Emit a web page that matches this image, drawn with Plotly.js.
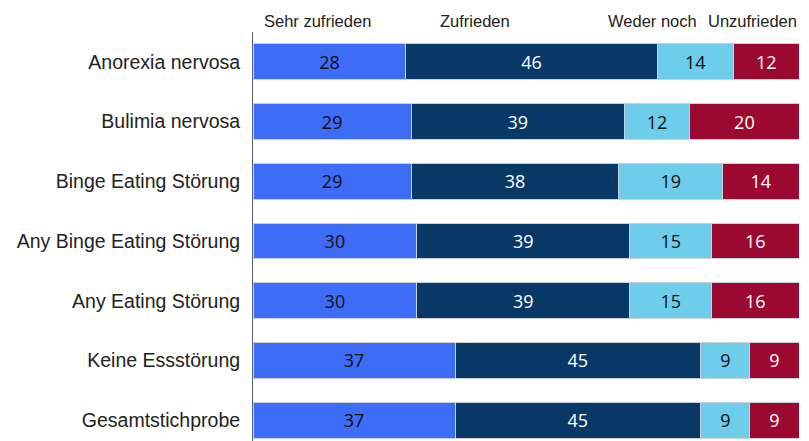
<!DOCTYPE html>
<html>
<head>
<meta charset="utf-8">
<script src="https://cdn.plot.ly/plotly-3.0.1.min.js"></script>
<style>
  html, body { margin: 0; padding: 0; background: #fff; }
  #chart { width: 809px; height: 441px; }
</style>
</head>
<body>
<div id="chart"></div>
<script>
// gruppen, von oben nach unten
var gruppen = ['Anorexia nervosa', 'Bulimia nervosa', 'Binge Eating Störung',
    'Any Binge Eating Störung', 'Any Eating Störung', 'Keine Essstörung', 'Gesamtstichprobe'];

var serien = ['Sehr zufrieden', 'Zufrieden', 'Weder noch', 'Unzufrieden'];

// anteile in %
var sehrZufrieden = [28, 29, 29, 30, 30, 37, 37];
var zufrieden     = [46, 39, 38, 39, 39, 45, 45];
var wederNoch     = [14, 12, 19, 15, 15, 9, 9];
var unzufrieden   = [12, 20, 14, 16, 16, 9, 9];

var farben = ['#3d6cf7', '#083966', '#6dcdea', '#9c0930'];
var textFarben = ['#111111', '#ffffff', '#111111', '#ffffff'];
var werte = [sehrZufrieden, zufrieden, wederNoch, unzufrieden];

var data = [];
for (var i = 0; i < serien.length; i++) {
    data.push({
        type: 'bar',
        orientation: 'h',
        name: serien[i],
        y: gruppen,
        x: werte[i],
        text: werte[i].map(String),
        textposition: 'inside',
        insidetextanchor: 'middle',
        textfont: {family: 'Open Sans, sans-serif', size: 18, color: textFarben[i]},
        marker: {color: farben[i], line: {color: '#c9d1dc', width: 1}},
        width: 0.6,
        hoverinfo: 'none'
    });
}

// legende als text oben
var legendeX = [0.016, 0.407, 0.731, 0.914];
var legendeAnchor = ['left', 'center', 'center', 'center'];
var annotations = [];
for (i = 0; i < serien.length; i++) {
    annotations.push({
        text: serien[i],
        xref: 'paper', yref: 'paper',
        x: legendeX[i], y: 1.027,
        xanchor: legendeAnchor[i], yanchor: 'middle',
        showarrow: false,
        font: {family: 'Liberation Sans, Arial, sans-serif', size: 16.5, color: '#222'}
    });
}

var layout = {
    width: 809,
    height: 441,
    margin: {l: 253, r: 10, t: 32, b: 0},
    barmode: 'stack',
    showlegend: false,
    paper_bgcolor: '#ffffff',
    plot_bgcolor: '#ffffff',
    xaxis: {range: [0, 100], visible: false, fixedrange: true},
    yaxis: {
        type: 'category',
        categoryorder: 'array',
        categoryarray: gruppen,
        range: [6.35, -0.5],
        showgrid: false,
        zeroline: false,
        showline: true,
        linecolor: '#555e70',
        linewidth: 1,
        ticks: 'outside',
        ticklen: 8,
        tickcolor: 'rgba(0,0,0,0)',
        tickfont: {family: 'Liberation Sans, Arial, sans-serif', size: 19.5, color: '#222'}
    },
    annotations: annotations
};

Plotly.newPlot('chart', data, layout, {displayModeBar: false, staticPlot: true});
</script>
</body>
</html>
